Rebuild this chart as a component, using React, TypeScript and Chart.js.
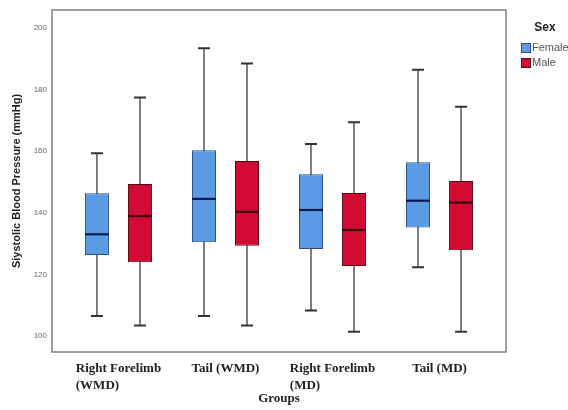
import React, { useEffect, useRef } from "react";
import { Chart, registerables } from "chart.js";

Chart.register(...registerables);

// ---- data ----
const groupLabels: string[][] = [
  ["Right Forelimb", "(WMD)"],
  ["Tail (WMD)"],
  ["Right Forelimb", "(MD)"],
  ["Tail (MD)"],
];
const seriesNames = ["Female", "Male"];

const femaleMin = [106.5, 106.5, 108.3, 122.3];
const femaleQ1 = [126.3, 130.4, 128.2, 135.2];
const femaleMedian = [133.0, 144.5, 140.9, 143.9];
const femaleQ3 = [146.3, 160.3, 152.5, 156.4];
const femaleMax = [159.3, 193.4, 162.3, 186.4];

const maleMin = [103.4, 103.4, 101.4, 101.4];
const maleQ1 = [123.9, 129.3, 122.7, 127.8];
const maleMedian = [138.9, 140.3, 134.4, 143.3];
const maleQ3 = [149.3, 156.8, 146.4, 150.3];
const maleMax = [177.4, 188.4, 169.4, 174.4];

const yTickValues = [100, 120, 140, 160, 180, 200];

const yTitle = "Siystolic Blood Pressure (mmHg)";
const xTitle = "Groups";
const legendTitle = "Sex";

// ---- styles ----
const fills = ["#5b9be3", "#d30a33"];
const borders = ["#2d4f7c", "#5a0a16"];
const medianColors = ["#0a1a48", "#3a0410"];

const stats = [
  { min: femaleMin, med: femaleMedian, max: femaleMax },
  { min: maleMin, med: maleMedian, max: maleMax },
];

const boxPlugin = {
  id: "boxExtras",
  beforeDatasetsDraw(chart: any) {
    const ctx = chart.ctx;
    const y = chart.scales.y;
    stats.forEach((s, di) => {
      const meta = chart.getDatasetMeta(di);
      meta.data.forEach((bar: any, i: number) => {
        const x = bar.x;
        const yMin = y.getPixelForValue(s.min[i]);
        const yMax = y.getPixelForValue(s.max[i]);
        ctx.save();
        ctx.strokeStyle = "#555";
        ctx.lineWidth = 1.5;
        ctx.beginPath();
        ctx.moveTo(x, yMax);
        ctx.lineTo(x, yMin);
        ctx.stroke();
        ctx.strokeStyle = "#333";
        ctx.lineWidth = 2;
        ctx.beginPath();
        ctx.moveTo(x - 6, yMax);
        ctx.lineTo(x + 6, yMax);
        ctx.moveTo(x - 6, yMin);
        ctx.lineTo(x + 6, yMin);
        ctx.stroke();
        ctx.restore();
      });
    });
  },
  afterDatasetsDraw(chart: any) {
    const ctx = chart.ctx;
    const y = chart.scales.y;
    stats.forEach((s, di) => {
      const meta = chart.getDatasetMeta(di);
      meta.data.forEach((bar: any, i: number) => {
        const half = bar.width / 2;
        const ym = y.getPixelForValue(s.med[i]);
        ctx.save();
        ctx.strokeStyle = medianColors[di];
        ctx.lineWidth = 2.2;
        ctx.beginPath();
        ctx.moveTo(bar.x - half, ym);
        ctx.lineTo(bar.x + half, ym);
        ctx.stroke();
        ctx.restore();
      });
    });
  },
  afterDraw(chart: any) {
    const ctx = chart.ctx;
    const a = chart.chartArea;
    // frame
    ctx.save();
    ctx.strokeStyle = "#808080";
    ctx.lineWidth = 1.5;
    ctx.strokeRect(a.left, a.top, a.right - a.left, a.bottom - a.top);
    ctx.restore();

    // x category labels
    const xs = chart.scales.x;
    ctx.save();
    ctx.font = "bold 13px 'Liberation Serif', 'Times New Roman', serif";
    ctx.fillStyle = "#222";
    ctx.textBaseline = "alphabetic";
    ctx.textAlign = "left";
    groupLabels.forEach((lines, i) => {
      const cx = xs.getPixelForValue(i);
      const w = Math.max(...lines.map((l) => ctx.measureText(l).width));
      const start = cx - w / 2;
      lines.forEach((l, j) => {
        ctx.fillText(l, start, a.bottom + 20 + j * 16.5);
      });
    });
    ctx.restore();

    // legend
    ctx.save();
    ctx.fillStyle = "#222";
    ctx.font = "bold 12px 'Liberation Sans', Arial, sans-serif";
    ctx.textAlign = "center";
    ctx.textBaseline = "middle";
    ctx.fillText(legendTitle, 545, 28);
    ctx.font = "11px 'Liberation Sans Narrow', 'Liberation Sans', Arial, sans-serif";
    ctx.textAlign = "left";
    chart.data.datasets.forEach((ds: any, di: number) => {
      const top = 43 + di * 15;
      ctx.fillStyle = ds.backgroundColor;
      ctx.fillRect(521, top, 9, 9);
      ctx.strokeStyle = ds.borderColor;
      ctx.lineWidth = 1;
      ctx.strokeRect(521.5, top + 0.5, 9, 9);
      ctx.fillStyle = "#555";
      ctx.fillText(ds.label, 532, top + 5);
    });
    ctx.restore();
  },
};

export default function App() {
  const ref = useRef<HTMLCanvasElement | null>(null);

  useEffect(() => {
    if (!ref.current) return;
    const datasets = [
      { q1: femaleQ1, q3: femaleQ3 },
      { q1: maleQ1, q3: maleQ3 },
    ].map((s, di) => ({
      label: seriesNames[di],
      data: groupLabels.map((_, i) => ({ x: i, y: [s.q1[i], s.q3[i]] })),
      backgroundColor: fills[di],
      borderColor: borders[di],
      borderWidth: 1,
      borderSkipped: false,
      categoryPercentage: 0.804,
      barPercentage: 0.558,
    }));

    const chart = new Chart(ref.current, {
      type: "bar",
      data: { datasets } as any,
      options: {
        animation: false,
        responsive: false,
        layout: { padding: { left: 0, top: 10, right: 62, bottom: 0 } },
        plugins: {
          legend: { display: false },
          tooltip: { enabled: false },
        },
        scales: {
          x: {
            type: "linear",
            min: -0.621,
            max: 3.621,
            offset: false,
            bounds: "data",
            grid: { display: false, drawTicks: false },
            border: { display: false },
            afterBuildTicks(scale: any) {
              scale.ticks = groupLabels.map((_, i) => ({ value: i }));
            },
            ticks: { stepSize: 1, includeBounds: false, display: false },
            title: {
              display: true,
              text: xTitle,
              color: "#222",
              font: { family: "'Liberation Serif', 'Times New Roman', serif", size: 13, weight: "bold" },
              padding: { top: 0, bottom: 4 },
            },
            afterFit(scale: any) {
              scale.height = 58;
            },
          },
          y: {
            min: 94.8,
            max: 205.8,
            bounds: "data",
            grid: { display: false, drawTicks: false },
            border: { display: false },
            afterBuildTicks(scale: any) {
              scale.ticks = yTickValues.map((v) => ({ value: v }));
            },
            ticks: {
              padding: 5,
              color: "#666",
              font: { family: "'Liberation Sans', Arial, sans-serif", size: 8 },
            },
            title: {
              display: true,
              text: yTitle,
              color: "#222",
              font: { family: "'Liberation Sans', Arial, sans-serif", size: 11, weight: "bold" },
              padding: { top: 10, bottom: 0 },
            },
            afterFit(scale: any) {
              scale.width = 52;
            },
          },
        },
      } as any,
      plugins: [boxPlugin],
    });
    return () => chart.destroy();
  }, []);

  return (
    <div style={{ position: "fixed", left: 0, top: 0, width: 568, height: 410, background: "#fff" }}>
      <canvas ref={ref} width={568} height={410} style={{ display: "block" }} />
    </div>
  );
}
